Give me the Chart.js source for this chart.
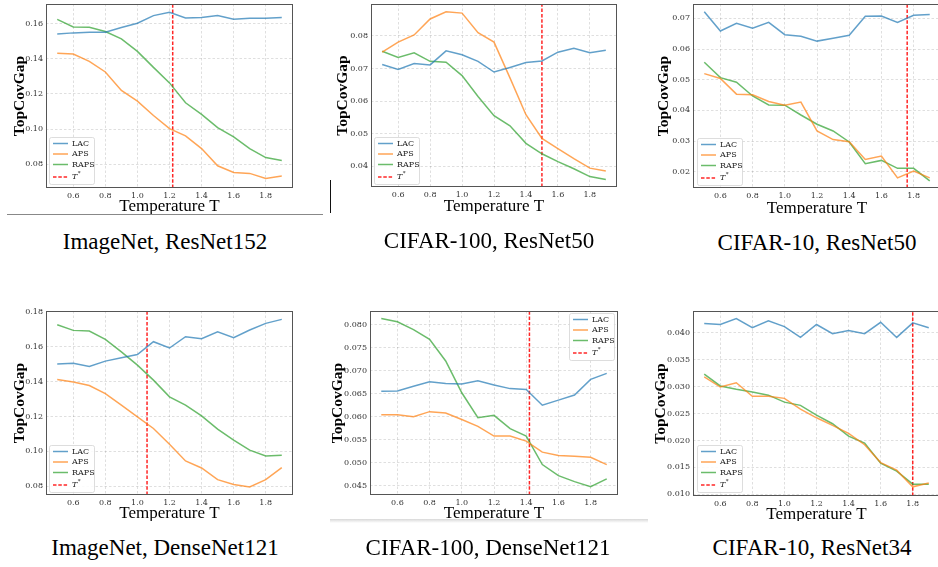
<!DOCTYPE html>
<html>
<head>
<meta charset="utf-8">
<script src="https://cdn.jsdelivr.net/npm/chart.js@4.4.0/dist/chart.umd.min.js"></script>
<style>
  html, body { margin: 0; padding: 0; background: #fff; width: 938px; height: 567px; overflow: hidden; }
  .wrap { position: absolute; overflow: hidden; }
  .wrap canvas { position: absolute; left: 0; top: 0; }
  .cap { position: absolute; font-family: 'Liberation Serif', 'Times New Roman', serif; font-size: 23px;
         line-height: 23px; white-space: nowrap; transform: translateX(-50%); color: #000; }
  .rule { position: absolute; }
</style>
</head>
<body>

<script>
// temperatures on the x axis
const temps = [0.5, 0.6, 0.7, 0.8, 0.9, 1.0, 1.1, 1.2, 1.3, 1.4, 1.5, 1.6, 1.7, 1.8, 1.9];
const xTickLabels = ['0.6', '0.8', '1.0', '1.2', '1.4', '1.6', '1.8'];
const seriesNames = ['LAC', 'APS', 'RAPS'];

// ImageNet, ResNet152
const inR152LAC  = [0.1540, 0.1547, 0.1551, 0.1551, 0.1577, 0.1602, 0.1645, 0.1664, 0.1632, 0.1634, 0.1645, 0.1624, 0.1630, 0.1630, 0.1634];
const inR152APS  = [0.1431, 0.1427, 0.1385, 0.1325, 0.1220, 0.1159, 0.1078, 0.1003, 0.0962, 0.0890, 0.0792, 0.0754, 0.0749, 0.0720, 0.0734];
const inR152RAPS = [0.1624, 0.1581, 0.1579, 0.1555, 0.1513, 0.1442, 0.1351, 0.1263, 0.1150, 0.1084, 0.1009, 0.0956, 0.0890, 0.0839, 0.0822];
const inR152TStar = 1.22;
const inR152YTicks = ['0.08', '0.10', '0.12', '0.14', '0.16'];

// CIFAR-100, ResNet50
const c100R50LAC  = [0.0712, 0.0697, 0.0715, 0.0711, 0.0754, 0.0742, 0.0722, 0.0689, 0.0703, 0.0718, 0.0723, 0.0750, 0.0762, 0.0748, 0.0756];
const c100R50APS  = [0.0750, 0.0781, 0.0803, 0.0852, 0.0874, 0.0870, 0.0810, 0.0781, 0.0671, 0.0558, 0.0485, 0.0454, 0.0423, 0.0394, 0.0385];
const c100R50RAPS = [0.0753, 0.0734, 0.0748, 0.0722, 0.0719, 0.0678, 0.0614, 0.0555, 0.0524, 0.0470, 0.0438, 0.0414, 0.0392, 0.0368, 0.0359];
const c100R50TStar = 1.50;
const c100R50YTicks = ['0.04', '0.05', '0.06', '0.07', '0.08'];

// CIFAR-10, ResNet50
const c10R50LAC  = [0.0722, 0.0659, 0.0684, 0.0668, 0.0687, 0.0647, 0.0642, 0.0626, 0.0635, 0.0645, 0.0707, 0.0708, 0.0687, 0.0710, 0.0713];
const c10R50APS  = [0.0520, 0.0504, 0.0453, 0.0451, 0.0429, 0.0417, 0.0427, 0.0333, 0.0305, 0.0298, 0.0240, 0.0251, 0.0180, 0.0202, 0.0180];
const c10R50RAPS = [0.0557, 0.0507, 0.0492, 0.0447, 0.0418, 0.0417, 0.0385, 0.0355, 0.0333, 0.0297, 0.0226, 0.0237, 0.0211, 0.0211, 0.0170];
const c10R50TStar = 1.76;
const c10R50YTicks = ['0.02', '0.03', '0.04', '0.05', '0.06', '0.07'];

// ImageNet, DenseNet121
const inD121LAC  = [0.1500, 0.1504, 0.1486, 0.1517, 0.1536, 0.1555, 0.1628, 0.1592, 0.1657, 0.1645, 0.1685, 0.1651, 0.1695, 0.1733, 0.1756];
const inD121APS  = [0.1412, 0.1397, 0.1377, 0.1331, 0.1265, 0.1198, 0.1131, 0.1041, 0.0945, 0.0905, 0.0838, 0.0810, 0.0796, 0.0838, 0.0907];
const inD121RAPS = [0.1725, 0.1693, 0.1689, 0.1641, 0.1570, 0.1494, 0.1408, 0.1312, 0.1265, 0.1203, 0.1127, 0.1064, 0.1007, 0.0974, 0.0978];
const inD121TStar = 1.06;
const inD121YTicks = ['0.08', '0.10', '0.12', '0.14', '0.16', '0.18'];

// CIFAR-100, DenseNet121
const c100D121LAC  = [0.0655, 0.0656, 0.0666, 0.0676, 0.0672, 0.0671, 0.0678, 0.0669, 0.0661, 0.0659, 0.0625, 0.0636, 0.0647, 0.0681, 0.0694];
const c100D121APS  = [0.0604, 0.0604, 0.0600, 0.0611, 0.0608, 0.0594, 0.0579, 0.0558, 0.0558, 0.0547, 0.0523, 0.0516, 0.0514, 0.0512, 0.0496];
const c100D121RAPS = [0.0813, 0.0806, 0.0789, 0.0768, 0.0721, 0.0652, 0.0598, 0.0603, 0.0574, 0.0558, 0.0496, 0.0472, 0.0459, 0.0448, 0.0465];
const c100D121TStar = 1.42;
const c100D121YTicks = ['0.045', '0.050', '0.055', '0.060', '0.065', '0.070', '0.075', '0.080'];

// CIFAR-10, ResNet34
const c10R34LAC  = [0.0417, 0.0415, 0.0426, 0.0409, 0.0422, 0.0411, 0.0391, 0.0415, 0.0398, 0.0404, 0.0398, 0.0419, 0.0391, 0.0418, 0.0409];
const c10R34APS  = [0.0318, 0.0299, 0.0307, 0.0282, 0.0282, 0.0278, 0.0258, 0.0242, 0.0228, 0.0213, 0.0192, 0.0159, 0.0145, 0.0114, 0.0121];
const c10R34RAPS = [0.0323, 0.0301, 0.0295, 0.0290, 0.0284, 0.0271, 0.0265, 0.0247, 0.0231, 0.0208, 0.0195, 0.0158, 0.0143, 0.0119, 0.0119];
const c10R34TStar = 1.80;
const c10R34YTicks = ['0.010', '0.015', '0.020', '0.025', '0.030', '0.035', '0.040'];

const captions = ['ImageNet, ResNet152', 'CIFAR-100, ResNet50', 'CIFAR-10, ResNet50',
                  'ImageNet, DenseNet121', 'CIFAR-100, DenseNet121', 'CIFAR-10, ResNet34'];

const lineColors = ['rgba(31,119,180,0.7)', 'rgba(255,127,14,0.7)', 'rgba(44,160,44,0.7)'];
const tStarColor = 'rgba(255,0,0,0.85)';

// page layout: wrapper box, canvas size, plot box (page px), label spots
const panels = [
  { series: [inR152LAC, inR152APS, inR152RAPS], tStar: inR152TStar, yTicks: inR152YTicks, yMin: 0.0666, yMax: 0.1711,
    box: [0, 0, 330, 214], canvasH: 222, plot: [46, 4, 293, 188], yLabX: 20, xLabY: 207, legend: ['bl', 3, 4], cap: [165, 230] },
  { series: [c100R50LAC, c100R50APS, c100R50RAPS], tStar: c100R50TStar, yTicks: c100R50YTicks, yMin: 0.0336, yMax: 0.0898,
    box: [322, 0, 328, 214], canvasH: 222, plot: [371, 4, 617, 187], yLabX: 343, xLabY: 207, legend: ['bl', 3, 3], cap: [489, 229] },
  { series: [c10R50LAC, c10R50APS, c10R50RAPS], tStar: c10R50TStar, yTicks: c10R50YTicks, yMin: 0.0147, yMax: 0.0747,
    box: [651, 0, 295, 214], canvasH: 222, plot: [693, 4, 941, 188], yLabX: 664, xLabY: 208.5, legend: ['bl', 4, 3], cap: [817, 231] },
  { series: [inD121LAC, inD121APS, inD121RAPS], tStar: inD121TStar, yTicks: inD121YTicks, yMin: 0.0750, yMax: 0.1804,
    box: [0, 290, 330, 231], canvasH: 240, plot: [46, 311, 293, 495], yLabX: 20, xLabY: 514, legend: ['bl', 3, 3], cap: [165, 536] },
  { series: [c100D121LAC, c100D121APS, c100D121RAPS], tStar: c100D121TStar, yTicks: c100D121YTicks, yMin: 0.0430, yMax: 0.08295,
    box: [322, 290, 328, 231], canvasH: 240, plot: [370, 311, 618, 495], yLabX: 338, xLabY: 513.5, legend: ['tr', 4, 2], cap: [488, 536] },
  { series: [c10R34LAC, c10R34APS, c10R34RAPS], tStar: c10R34TStar, yTicks: c10R34YTicks, yMin: 0.0097, yMax: 0.0440,
    box: [651, 290, 295, 231], canvasH: 240, plot: [693, 311, 940, 496], yLabX: 661, xLabY: 514.5, legend: ['bl', 4, 4], cap: [812, 536] }
];

const tickFont = { family: 'DejaVu Serif', size: 8 };
const yTitleFont = { family: 'Liberation Serif', size: 15.5, weight: 'bold', lineHeight: 1.2 };
const xTitleFont = { family: 'Liberation Serif', size: 17, lineHeight: 1.2 };

// box around the plot, like matplotlib spines
const frame = {
  id: 'frame',
  afterDatasetsDraw(chart) {
    const { ctx, chartArea: a } = chart;
    ctx.save();
    ctx.strokeStyle = '#555';
    ctx.lineWidth = 1;
    ctx.strokeRect(Math.round(a.left) + 0.5, Math.round(a.top) + 0.5,
                   Math.round(a.right - a.left) - 1, Math.round(a.bottom - a.top) - 1);
    ctx.restore();
  }
};

// legend drawn inside the plot
const legendBox = {
  id: 'legendBox',
  afterDraw(chart, args, opts) {
    const { ctx, chartArea: a } = chart;
    const w = 45, h = 47;
    const [corner, dx, dy] = opts.pos;
    const x = Math.round(corner === 'tr' ? a.right - dx - w : a.left + dx);
    const y = Math.round(corner === 'tr' ? a.top + dy : a.bottom - dy - h);
    ctx.save();
    ctx.fillStyle = 'rgba(255,255,255,0.85)';
    ctx.strokeStyle = '#d4d4d4';
    ctx.lineWidth = 0.8;
    ctx.beginPath();
    ctx.roundRect(x + 0.5, y + 0.5, w, h, 2);
    ctx.fill();
    ctx.stroke();
    const rows = [6.5, 17, 27.5, 40];
    chart.data.datasets.forEach((ds, i) => {
      const ry = y + rows[i];
      ctx.strokeStyle = ds.borderColor;
      ctx.lineWidth = ds.borderWidth;
      ctx.setLineDash(ds.borderDash || []);
      ctx.beginPath();
      ctx.moveTo(x + 4, ry);
      ctx.lineTo(x + 19, ry);
      ctx.stroke();
      ctx.setLineDash([]);
      ctx.fillStyle = '#222';
      ctx.textBaseline = 'middle';
      ctx.textAlign = 'left';
      if (ds.label === 'T*') {
        ctx.font = 'italic 8px "DejaVu Serif"';
        ctx.fillText('T', x + 23, ry);
        const tw = ctx.measureText('T').width;
        ctx.font = '5.5px "DejaVu Serif"';
        ctx.fillText('*', x + 23 + tw + 0.5, ry - 3);
      } else {
        ctx.font = '8px "DejaVu Serif"';
        ctx.fillText(ds.label, x + 23, ry);
      }
    });
    ctx.restore();
  }
};

function buildPanel(p, idx) {
  const [bx, by, bw, bh] = p.box;
  const [pl, pt, pr, pb] = p.plot;

  const wrap = document.createElement('div');
  wrap.className = 'wrap';
  Object.assign(wrap.style, { left: bx + 'px', top: by + 'px', width: bw + 'px', height: bh + 'px' });
  const canvas = document.createElement('canvas');
  canvas.width = bw; canvas.height = p.canvasH;
  canvas.style.width = bw + 'px'; canvas.style.height = p.canvasH + 'px';
  wrap.appendChild(canvas);
  document.body.appendChild(wrap);

  const cap = document.createElement('div');
  cap.className = 'cap';
  cap.textContent = captions[idx];
  cap.style.left = p.cap[0] + 'px';
  cap.style.top = p.cap[1] + 'px';
  document.body.appendChild(cap);

  const yLh = yTitleFont.size * yTitleFont.lineHeight;
  const xLh = xTitleFont.size * xTitleFont.lineHeight;
  const xTickVals = xTickLabels.map(Number);
  const yTickVals = p.yTicks.map(Number);

  const datasets = p.series.map((vals, i) => ({
    label: seriesNames[i],
    data: temps.map((t, j) => ({ x: t, y: vals[j] })),
    borderColor: lineColors[i],
    borderWidth: 1.5,
    pointRadius: 0,
    tension: 0
  }));
  datasets.push({
    label: 'T*',
    data: [{ x: p.tStar, y: p.yMin }, { x: p.tStar, y: p.yMax }],
    borderColor: tStarColor,
    borderWidth: 1.5,
    borderDash: [3.5, 1.8],
    pointRadius: 0
  });

  new Chart(canvas, {
    type: 'line',
    data: { datasets },
    plugins: [frame, legendBox],
    options: {
      responsive: false,
      animation: false,
      events: [],
      layout: {
        autoPadding: false,
        padding: { left: 0, top: pt - by, right: bx + bw - pr, bottom: 0 }
      },
      plugins: {
        legend: { display: false },
        tooltip: { enabled: false },
        legendBox: { pos: p.legend }
      },
      scales: {
        x: {
          type: 'linear',
          min: 0.43, max: 1.97,
          afterBuildTicks: s => { s.ticks = xTickVals.map(v => ({ value: v })); },
          afterFit: s => {
            s.height = by + p.canvasH - pb;
            s.paddingLeft = 0; s.paddingRight = 0; s.paddingTop = 0; s.paddingBottom = 0;
          },
          ticks: {
            font: tickFont, color: '#333', padding: 3.5, maxRotation: 0, autoSkip: false,
            callback: v => xTickLabels.find(l => Math.abs(Number(l) - v) < 1e-9)
          },
          grid: { color: 'rgba(0,0,0,0.16)', lineWidth: 0.8, drawTicks: false },
          border: { display: false, dash: [2.5, 2] },
          title: {
            display: true, text: 'Temperature T', color: '#000', font: xTitleFont,
            padding: { top: 0, bottom: (by + p.canvasH) - p.xLabY - xLh / 2 }
          }
        },
        y: {
          type: 'linear',
          min: p.yMin, max: p.yMax,
          afterBuildTicks: s => { s.ticks = yTickVals.map(v => ({ value: v })); },
          afterFit: s => {
            s.width = pl - bx;
            s.paddingLeft = 0; s.paddingRight = 0; s.paddingTop = 0; s.paddingBottom = 0;
          },
          ticks: {
            font: tickFont, color: '#333', padding: 3, autoSkip: false,
            callback: v => p.yTicks.find(l => Math.abs(Number(l) - v) < 1e-9)
          },
          grid: { color: 'rgba(0,0,0,0.16)', lineWidth: 0.8, drawTicks: false },
          border: { display: false, dash: [2.5, 2] },
          title: {
            display: true, text: 'TopCovGap', color: '#000', font: yTitleFont,
            padding: { top: (p.yLabX - bx) - yLh / 2, bottom: 0 }
          }
        }
      }
    }
  });
}

panels.forEach(buildPanel);

// stray rules that are part of the original figure crop
[
  { left: 7, top: 214, width: 316, height: 1, background: '#888' },
  { left: 330, top: 180, width: 1, height: 33, background: '#111' },
  { left: 330, top: 519, width: 318, height: 4, background: 'linear-gradient(#d8d8d8, #fff)' }
].forEach(r => {
  const d = document.createElement('div');
  d.className = 'rule';
  Object.assign(d.style, {
    left: r.left + 'px', top: r.top + 'px', width: r.width + 'px', height: r.height + 'px', background: r.background
  });
  document.body.appendChild(d);
});
</script>
</body>
</html>
